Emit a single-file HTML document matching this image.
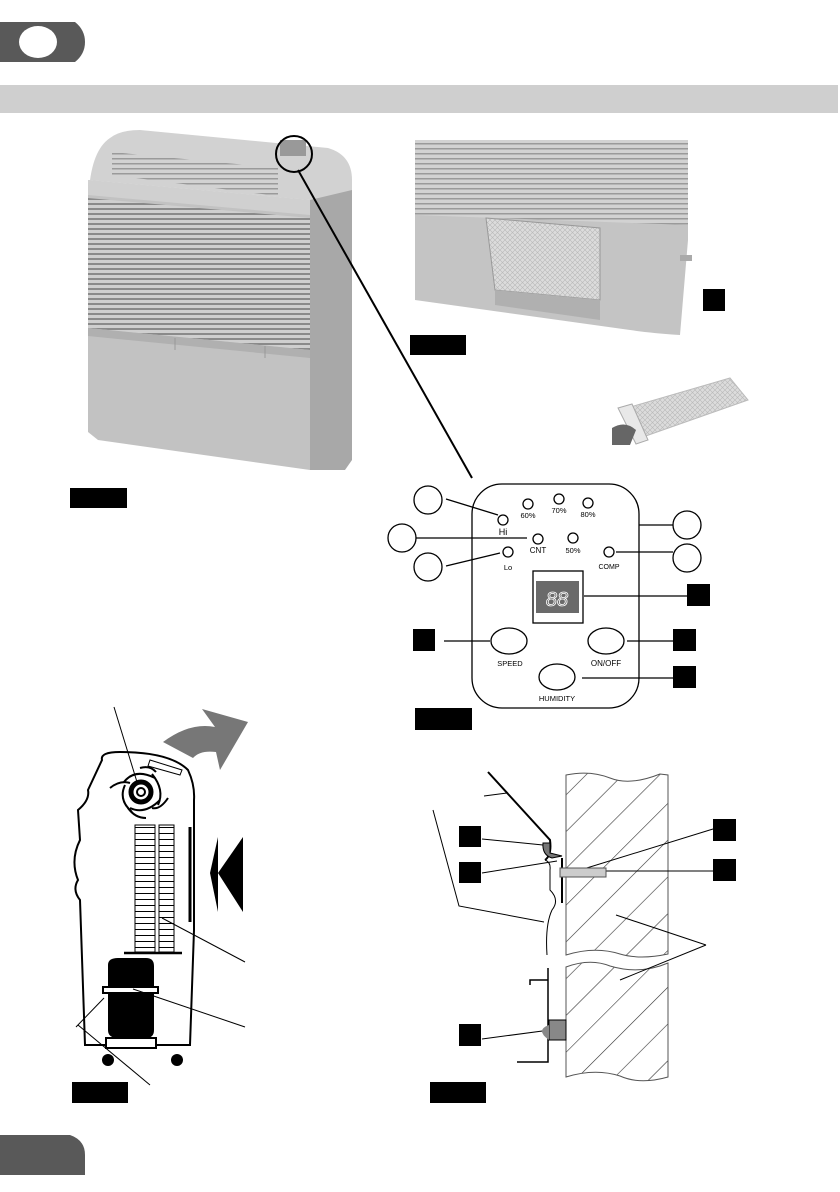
<!DOCTYPE html>
<html><head><meta charset="utf-8"><style>
html,body{margin:0;padding:0;background:#fff;}
svg{display:block;}
text{font-family:"Liberation Sans",sans-serif;}
</style></head><body>
<svg width="840" height="1192" viewBox="0 0 840 1192" xmlns="http://www.w3.org/2000/svg">
<defs>
<pattern id="lv" width="6" height="5" patternUnits="userSpaceOnUse"><rect width="6" height="5" fill="#cfcfcf"/><rect y="3" width="6" height="2" fill="#8a8a8a"/></pattern>
<pattern id="lv2" width="6" height="5" patternUnits="userSpaceOnUse"><rect width="6" height="5" fill="#d2d2d2"/><rect y="3" width="6" height="1.5" fill="#9a9a9a"/></pattern>
<pattern id="hatch" width="26" height="26" patternUnits="userSpaceOnUse" patternTransform="rotate(45)"><rect width="26" height="26" fill="#fff"/><line x1="0" y1="0" x2="0" y2="26" stroke="#333" stroke-width="1.2"/></pattern>
<pattern id="fins" width="10" height="6" patternUnits="userSpaceOnUse"><rect width="10" height="6" fill="#fff"/><line x1="0" y1="5.5" x2="10" y2="5.5" stroke="#000" stroke-width="1"/></pattern>
<pattern id="mesh" width="5" height="5" patternUnits="userSpaceOnUse"><rect width="5" height="5" fill="#dcdcdc"/><path d="M0 0L5 5M5 0L0 5" stroke="#b8b8b8" stroke-width=".6"/></pattern>
</defs>

<!-- header -->
<path d="M0 22H75Q85 30 85 42Q85 54 75 62H0Z" fill="#595959"/>
<ellipse cx="38" cy="42" rx="19" ry="16" fill="#fff"/>
<rect x="0" y="85" width="838" height="28" fill="#cfcfcf"/>
<path d="M0 1135H70Q85 1140 85 1155V1175H0Z" fill="#595959"/>

<!-- left photo unit -->
<path d="M310 195L352 185V460L345 470H310Z" fill="#a8a8a8"/>
<path d="M88 180L310 200V470L98 440L88 432Z" fill="#c2c2c2"/>
<path d="M88 180L310 200V215L88 195Z" fill="#d0d0d0"/>
<path d="M89 190Q92 150 110 138Q120 130 140 130L328 148Q352 155 352 180V190L310 200L88 180Z" fill="#d2d2d2"/>
<path d="M112 152L278 168L278 196L112 175Z" fill="url(#lv2)"/>
<path d="M88 198L310 218L310 350L88 328Z" fill="url(#lv)"/>
<path d="M88 328L310 350V358L88 336Z" fill="#b0b0b0"/>
<line x1="175" y1="338" x2="175" y2="350" stroke="#999"/>
<line x1="265" y1="346" x2="265" y2="358" stroke="#999"/>
<rect x="280" y="140" width="26" height="16" fill="#999"/>
<circle cx="294" cy="154" r="18" fill="none" stroke="#000" stroke-width="2"/>
<line x1="298" y1="170" x2="472" y2="478" stroke="#000" stroke-width="2"/>
<rect x="70" y="488" width="57" height="20" fill="#000"/>

<!-- top right photo -->
<path d="M415 140H688V240L680 335Q650 333 630 330L415 300Z" fill="#c4c4c4"/>
<path d="M415 140H688V225L415 215Z" fill="url(#lv2)"/>
<path d="M486 218L600 228L600 300L495 290Z" fill="url(#mesh)" stroke="#999"/>
<path d="M495 290L600 300L600 320L495 305Z" fill="#b0b0b0"/>
<rect x="680" y="255" width="12" height="6" fill="#aaa"/>
<rect x="703" y="289" width="22" height="22" fill="#000"/>
<rect x="410" y="335" width="56" height="20" fill="#000"/>
<!-- filter in hand -->
<path d="M620 410L730 378L748 400L640 438Z" fill="url(#mesh)" stroke="#bbb"/>
<path d="M618 408L632 404L648 440L636 444Z" fill="#e8e8e8" stroke="#aaa"/>
<path d="M612 428Q625 420 636 430L630 445L612 445Z" fill="#666"/>

<!-- control panel -->
<g stroke="#000" stroke-width="1.3" fill="#fff">
<rect x="472" y="484" width="167" height="224" rx="30"/>
<circle cx="428" cy="500" r="14"/><circle cx="402" cy="538" r="14"/><circle cx="428" cy="567" r="14"/>
<circle cx="687" cy="525" r="14"/><circle cx="687" cy="558" r="14"/>
<line x1="446" y1="499" x2="498" y2="515"/>
<line x1="416" y1="538" x2="527" y2="538"/>
<line x1="446" y1="566" x2="500" y2="553"/>
<line x1="639" y1="525" x2="673" y2="525"/>
<line x1="616" y1="552" x2="673" y2="552"/>
<line x1="584" y1="596" x2="687" y2="596"/>
<line x1="444" y1="641" x2="490" y2="641"/>
<line x1="627" y1="641" x2="673" y2="641"/>
<line x1="582" y1="678" x2="673" y2="678"/>
<circle cx="503" cy="520" r="5"/><circle cx="528" cy="504" r="5"/><circle cx="559" cy="499" r="5"/><circle cx="588" cy="503" r="5"/>
<circle cx="538" cy="539" r="5"/><circle cx="573" cy="538" r="5"/><circle cx="508" cy="552" r="5"/><circle cx="609" cy="552" r="5"/>
<rect x="533" y="571" width="50" height="52"/>
<ellipse cx="509" cy="641" rx="18" ry="13"/><ellipse cx="606" cy="641" rx="18" ry="13"/><ellipse cx="557" cy="677" rx="18" ry="13"/>
</g>
<rect x="536" y="581" width="43" height="32" fill="#6a6a6a"/>
<text x="557" y="606" font-size="20" fill="none" stroke="#fff" stroke-width=".8" text-anchor="middle" font-style="italic">88</text>
<g font-size="7.5" text-anchor="middle" fill="#000">
<text x="528" y="518">60%</text><text x="559" y="513">70%</text><text x="588" y="517">80%</text>
<text x="503" y="535" font-size="9">Hi</text><text x="538" y="553" font-size="8">CNT</text><text x="573" y="553">50%</text>
<text x="508" y="570">Lo</text><text x="609" y="569" font-size="7">COMP</text>
<text x="510" y="666">SPEED</text><text x="606" y="666" font-size="8">ON/OFF</text><text x="557" y="701" font-size="7.5">HUMIDITY</text>
</g>
<rect x="687" y="584" width="23" height="22" fill="#000"/>
<rect x="413" y="629" width="22" height="22" fill="#000"/>
<rect x="673" y="629" width="23" height="22" fill="#000"/>
<rect x="673" y="666" width="23" height="22" fill="#000"/>
<rect x="415" y="708" width="57" height="22" fill="#000"/>

<!-- bottom left diagram -->
<path d="M163 742Q190 722 215 727L202 709L248 722L220 770L216 752Q200 750 193 758Z" fill="#777"/>
<path d="M102 760Q100 752 120 752Q170 752 188 770Q195 785 194 800V930L190 1045H85L80 900Q72 890 78 880Q70 860 80 840L78 810Q90 800 88 790Z" fill="#fff" stroke="#000" stroke-width="2"/>
<line x1="190" y1="827" x2="190" y2="922" stroke="#000" stroke-width="3"/>
<path d="M150 760L182 770L180 775L148 766Z" fill="#fff" stroke="#000"/>
<circle cx="141" cy="792" r="10" fill="none" stroke="#000" stroke-width="5"/>
<circle cx="141" cy="792" r="4" fill="#fff" stroke="#000" stroke-width="2"/>
<g stroke="#000" stroke-width="2" fill="none">
<path d="M124 782Q135 768 155 778"/><path d="M152 774Q165 790 158 805"/><path d="M160 800Q145 815 130 808"/><path d="M132 812Q118 800 125 785"/>
<path d="M110 788Q120 780 130 783"/><path d="M140 768Q150 765 156 772"/><path d="M168 798Q160 810 152 808"/><path d="M146 818Q135 818 128 808"/>
</g>
<line x1="114" y1="707" x2="137" y2="782" stroke="#000"/>
<rect x="135" y="825" width="20" height="127" fill="url(#fins)" stroke="#000"/>
<rect x="159" y="825" width="15" height="127" fill="url(#fins)" stroke="#000"/>
<line x1="124" y1="953" x2="182" y2="953" stroke="#000" stroke-width="2.5"/>
<path d="M108 965Q108 958 118 958H146Q154 958 154 966V1030Q154 1038 146 1038H118Q108 1038 108 1030Z" fill="#000"/>
<rect x="103" y="987" width="55" height="6" fill="#fff" stroke="#000" stroke-width="2"/>
<rect x="106" y="1038" width="50" height="10" fill="#fff" stroke="#000" stroke-width="2"/>
<circle cx="108" cy="1060" r="6" fill="#000"/><circle cx="177" cy="1060" r="6" fill="#000"/>
<path d="M218 873L243 837V912Z" fill="#000"/><path d="M210 873L218 837L218 912Z" fill="#000"/>
<g stroke="#000" stroke-width="1">
<line x1="162" y1="918" x2="245" y2="962"/><line x1="133" y1="989" x2="245" y2="1027"/>
<line x1="78" y1="1025" x2="150" y2="1085"/><line x1="76" y1="1027" x2="104" y2="998"/>
</g>
<rect x="72" y="1082" width="56" height="21" fill="#000"/>

<!-- bottom right diagram -->
<path d="M566 775Q590 770 610 778Q630 786 660 774L668 775V954Q640 960 620 954Q595 946 566 955Z" fill="url(#hatch)" stroke="#555"/>
<path d="M566 967Q590 958 610 966Q640 975 668 963V1077Q640 1085 620 1076Q595 1068 566 1077Z" fill="url(#hatch)" stroke="#555"/>
<g stroke="#000" fill="none">
<path d="M488 772L550 840Q552 855 545 860" stroke-width="2"/>
<line x1="484" y1="796" x2="507" y2="793"/>
<path d="M433 810L459 906L544 922"/>
<path d="M545 860Q551 862 550 870V890Q560 900 552 910Q545 925 547 955"/>
<path d="M562 858V903" stroke-width="2"/>
<path d="M548 968V1062H517M548 980H530V985" stroke-width="1.5"/>
<line x1="482" y1="839" x2="543" y2="845"/>
<line x1="482" y1="873" x2="557" y2="861"/>
<line x1="577" y1="871" x2="713" y2="829"/>
<line x1="597" y1="871" x2="713" y2="871"/>
<line x1="616" y1="915" x2="706" y2="945"/><line x1="620" y1="980" x2="706" y2="945"/>
<line x1="482" y1="1039" x2="550" y2="1030"/>
</g>
<path d="M543 843Q542 855 552 858L562 856L550 853Q550 848 550 843Z" fill="#777" stroke="#000"/>
<path d="M560 868H606V877H560Z" fill="#ccc" stroke="#555"/>
<rect x="549" y="1020" width="17" height="20" fill="#888" stroke="#000"/>
<path d="M549 1025Q535 1030 549 1040Z" fill="#888"/>
<rect x="459" y="826" width="22" height="21" fill="#000"/>
<rect x="459" y="862" width="22" height="21" fill="#000"/>
<rect x="713" y="819" width="23" height="22" fill="#000"/>
<rect x="713" y="859" width="23" height="22" fill="#000"/>
<rect x="459" y="1024" width="22" height="22" fill="#000"/>
<rect x="430" y="1082" width="56" height="21" fill="#000"/>
</svg>
</body></html>
